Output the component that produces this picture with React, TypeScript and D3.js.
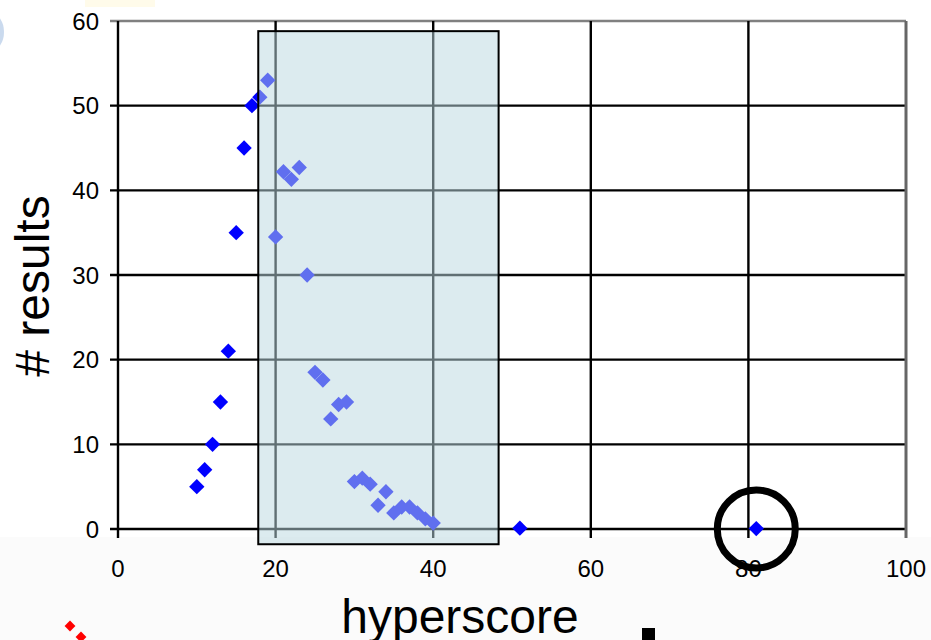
import React, { useEffect } from "react";
import * as d3 from "d3";

const hyperscore = [10, 11, 12, 13, 14, 15, 16, 17, 18, 19, 20, 21, 22, 23, 24, 25, 26, 27, 28, 29, 30, 31, 32, 33, 34, 35, 36, 37, 38, 39, 40, 51, 81];
const results = [5, 7, 10, 15, 21, 35, 45, 50, 51, 53, 34.5, 42.2, 41.3, 42.7, 30, 18.5, 17.6, 13, 14.7, 15, 5.6, 6, 5.3, 2.8, 4.4, 1.9, 2.6, 2.6, 1.9, 1.2, 0.7, 0.1, 0.05];
const xTicks = [0, 20, 40, 60, 80, 100];
const yTicks = [0, 10, 20, 30, 40, 50, 60];
const highlightX = [17.8, 48.3];
const highlightY = [-1.8, 58.8];
const circledX = [81];
const circledY = [0];
const xTitle = "hyperscore";
const yTitle = "# results";

const W = 931;
const H = 640;

export default function App() {
  useEffect(() => {
    document.body.style.margin = "0";
  }, []);

  const x = d3.scaleLinear().domain([0, 100]).range([118, 906]);
  const y = d3.scaleLinear().domain([0, 60]).range([529, 21]);
  const diamond = d3.symbol().type(d3.symbolDiamond2).size(150)();
  const smallDiamond = d3.symbol().type(d3.symbolDiamond2).size(75)();
  const font = "'Liberation Sans', Arial, sans-serif";

  return (
    <svg width={W} height={H} style={{ display: "block", background: "#fff" }} fontFamily={font}>
      <rect x={0} y={537} width={W} height={H - 537} fill="#fbfbfb" />
      <rect x={x(0)} y={y(60)} width={x(100) - x(0)} height={y(0) - y(60)} fill="#fff" />
      {/* faint artifacts at top-left */}
      <ellipse cx={-8} cy={32} rx={12} ry={18} fill="#4f86c6" opacity={0.3} />
      <rect x={85} y={0} width={70} height={7} fill="#fff3c4" opacity={0.35} />
      {/* horizontal grid lines */}
      {yTicks.map((t) => (
        <line key={"h" + t} x1={x(0) - 8} x2={x(100)} y1={y(t)} y2={y(t)}
          stroke={t === 60 ? "#808080" : "#000"} strokeWidth={2.4} />
      ))}
      {/* vertical grid lines */}
      {xTicks.map((t) => (
        <line key={"v" + t} x1={x(t)} x2={x(t)} y1={y(60)} y2={y(0) + 9}
          stroke={t === 100 ? "#666" : "#000"} strokeWidth={t === 100 ? 3 : 2.4} />
      ))}
      {/* points */}
      {hyperscore.map((h, i) => (
        <path key={"p" + i} d={diamond as string} transform={`translate(${x(h)},${y(results[i])})`} fill="#0000ff" />
      ))}
      {/* highlight rectangle */}
      <rect x={x(highlightX[0])} y={y(highlightY[1])}
        width={x(highlightX[1]) - x(highlightX[0])} height={y(highlightY[0]) - y(highlightY[1])}
        fill="#bad9df" fillOpacity={0.515} stroke="#000" strokeWidth={2} />
      {/* circled point */}
      <circle cx={x(circledX[0])} cy={y(circledY[0])} r={39} fill="none" stroke="#000" strokeWidth={7} />
      {/* tick labels */}
      {yTicks.map((t) => (
        <text key={"yl" + t} x={99} y={y(t)} dy="0.36em" textAnchor="end" fontSize={24} fill="#000">{t}</text>
      ))}
      {xTicks.map((t) => (
        <text key={"xl" + t} x={x(t)} y={577} textAnchor="middle" fontSize={24} fill="#000">{t}</text>
      ))}
      {/* titles */}
      <text x={460} y={633} textAnchor="middle" fontSize={48} fill="#000">{xTitle}</text>
      <text transform={`translate(49,286) rotate(-90)`} textAnchor="middle" fontSize={48} fill="#000">{yTitle}</text>
      {/* stray marks at the bottom */}
      <path d={smallDiamond as string} transform="translate(70,626)" fill="#ff0000" />
      <path d={smallDiamond as string} transform="translate(81,637)" fill="#ff0000" />
      <rect x={642} y={628} width={13} height={12} fill="#000" />
    </svg>
  );
}
